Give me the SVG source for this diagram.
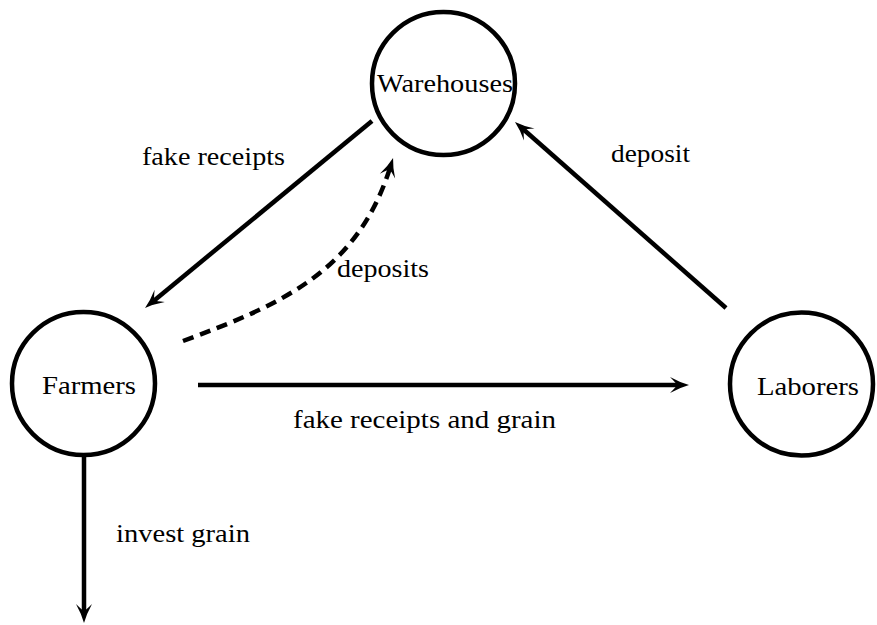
<svg xmlns="http://www.w3.org/2000/svg" width="877" height="625" viewBox="0 0 877 625">
  <style>
    .node circle { fill: #ffffff; stroke: #000000; stroke-width: 4.5; }
    .node text { text-anchor: middle; }
    .edge { fill: none; stroke: #000000; stroke-width: 4.5; marker-end: url(#head); }
    .dashed { stroke-dasharray: 11 7; }
  </style>
  <defs>
    <!-- concave-backed arrowhead; tip sits 8px beyond the path end -->
    <marker id="head" viewBox="-14 -10 24 20" refX="0" refY="0" markerWidth="24" markerHeight="20" markerUnits="userSpaceOnUse" orient="auto">
      <path d="M8,0 Q-1,-2.5 -11,-8 Q-5,-2 -4,0 Q-5,2 -11,8 Q-1,2.5 8,0 Z" fill="#000000"/>
    </marker>
  </defs>

  <g font-family="'Liberation Serif', 'Times New Roman', Times, 'DejaVu Serif', serif" font-size="26" fill="#000000">
    <g id="nodes">
      <g id="warehouses" class="node">
        <circle cx="443.5" cy="83.5" r="71.5"/>
        <text x="445" y="92" textLength="136" lengthAdjust="spacingAndGlyphs">Warehouses</text>
      </g>
      <g id="farmers" class="node">
        <circle cx="83.5" cy="383.5" r="71.5"/>
        <text x="89" y="394" textLength="94" lengthAdjust="spacingAndGlyphs">Farmers</text>
      </g>
      <g id="laborers" class="node">
        <circle cx="801.5" cy="384" r="71.5"/>
        <text x="808" y="395" textLength="102" lengthAdjust="spacingAndGlyphs">Laborers</text>
      </g>
    </g>

    <g id="connectors">
      <path class="edge" d="M372,121 L151.2,302.9"/>
      <path class="edge dashed" d="M183,341 C280,305 358,272 390.7,165.7"/>
      <path class="edge" d="M726,308 L521,127.3"/>
      <path class="edge" d="M198,385 L681,385"/>
      <path class="edge" d="M84,457 L84,615"/>
    </g>

    <g id="labels">
      <text x="142" y="165" textLength="143" lengthAdjust="spacingAndGlyphs">fake receipts</text>
      <text x="337" y="277" textLength="92" lengthAdjust="spacingAndGlyphs">deposits</text>
      <text x="611" y="162" textLength="79" lengthAdjust="spacingAndGlyphs">deposit</text>
      <text x="293" y="428" textLength="263" lengthAdjust="spacingAndGlyphs">fake receipts and grain</text>
      <text x="116" y="542" textLength="134" lengthAdjust="spacingAndGlyphs">invest grain</text>
    </g>
  </g>
</svg>
